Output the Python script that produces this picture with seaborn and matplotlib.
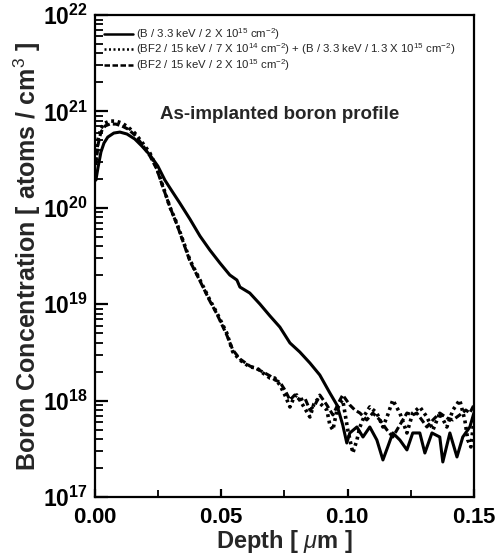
import numpy as np
import pandas as pd
import matplotlib
matplotlib.use("Agg")
import matplotlib.pyplot as plt
from matplotlib.ticker import FuncFormatter, LogLocator, MultipleLocator, NullFormatter
import seaborn as sns

# ---- data (depth in um, log10 of concentration in atoms/cm^3) ----
b_depth = [0.0004, 0.0012, 0.0024, 0.0036, 0.0051, 0.0075, 0.0099, 0.0127, 0.0158, 0.0186,
           0.0218, 0.0249, 0.0277, 0.0305, 0.0336, 0.0376, 0.0416, 0.0455, 0.0495, 0.0534,
           0.0562, 0.0574, 0.0613, 0.0653, 0.0693, 0.0732, 0.0772, 0.0811, 0.0851, 0.0890,
           0.0930, 0.0958, 0.0981, 0.0997, 0.1009, 0.1037, 0.1061, 0.1088, 0.1116, 0.1140,
           0.1159, 0.1179, 0.1207, 0.1235, 0.1258, 0.1286, 0.1306, 0.1334, 0.1365, 0.1377,
           0.1405, 0.1433, 0.1456, 0.1484, 0.1500]
b_logc = [20.288, 20.413, 20.579, 20.672, 20.734, 20.776, 20.786, 20.766, 20.714, 20.641,
          20.548, 20.434, 20.288, 20.174, 20.050, 19.884, 19.707, 19.562, 19.427, 19.303,
          19.251, 19.178, 19.116, 19.002, 18.878, 18.763, 18.598, 18.504, 18.390, 18.266,
          18.079, 17.954, 17.747, 17.560, 17.664, 17.726, 17.622, 17.726, 17.591, 17.384,
          17.519, 17.664, 17.591, 17.488, 17.664, 17.664, 17.456, 17.664, 17.622, 17.363,
          17.664, 17.415, 17.622, 17.726, 17.871]

mix_depth = [0.0004, 0.0012, 0.0024, 0.0040, 0.0059, 0.0083, 0.0107, 0.0131, 0.0158, 0.0186,
             0.0218, 0.0245, 0.0265, 0.0297, 0.0324, 0.0348, 0.0376, 0.0416, 0.0455, 0.0483,
             0.0522, 0.0546, 0.0574, 0.0613, 0.0641, 0.0665, 0.0693, 0.0712, 0.0732, 0.0752,
             0.0772, 0.0787, 0.0799, 0.0823, 0.0851, 0.0867, 0.0879, 0.0898, 0.0918, 0.0930,
             0.0942, 0.0958, 0.0970, 0.0981, 0.1001, 0.1021, 0.1037, 0.1049, 0.1068, 0.1088,
             0.1116, 0.1140, 0.1159, 0.1179, 0.1207, 0.1235, 0.1258, 0.1286, 0.1314, 0.1338,
             0.1365, 0.1393, 0.1417, 0.1444, 0.1464, 0.1476, 0.1488, 0.1500]
mix_logc = [20.496, 20.703, 20.828, 20.880, 20.900, 20.900, 20.880, 20.838, 20.776, 20.683,
            20.568, 20.413, 20.257, 20.008, 19.842, 19.666, 19.459, 19.251, 19.044, 18.909,
            18.701, 18.504, 18.421, 18.349, 18.338, 18.286, 18.234, 18.234, 18.162, 18.058,
            17.934, 18.027, 18.058, 17.954, 17.830, 17.965, 18.006, 17.954, 17.902, 17.747,
            17.695, 17.902, 17.975, 18.006, 17.695, 17.456, 17.591, 17.726, 17.851, 17.934,
            17.871, 17.726, 17.851, 18.006, 17.871, 17.664, 17.871, 17.934, 17.830, 17.695,
            17.871, 17.726, 17.902, 18.006, 17.799, 17.591, 17.519, 17.799]

bf2_depth = [0.0004, 0.0012, 0.0024, 0.0040, 0.0059, 0.0083, 0.0107, 0.0131, 0.0158, 0.0186,
             0.0218, 0.0245, 0.0265, 0.0297, 0.0324, 0.0348, 0.0376, 0.0416, 0.0455, 0.0483,
             0.0522, 0.0546, 0.0574, 0.0613, 0.0641, 0.0665, 0.0693, 0.0712, 0.0732, 0.0752,
             0.0772, 0.0791, 0.0811, 0.0831, 0.0851, 0.0871, 0.0890, 0.0918, 0.0942, 0.0970,
             0.0981, 0.1009, 0.1029, 0.1049, 0.1076, 0.1100, 0.1128, 0.1156, 0.1179, 0.1207,
             0.1235, 0.1258, 0.1274, 0.1294, 0.1314, 0.1338, 0.1365, 0.1393, 0.1417, 0.1444,
             0.1468, 0.1484, 0.1500]
bf2_logc = [20.444, 20.651, 20.786, 20.849, 20.869, 20.869, 20.849, 20.817, 20.755, 20.662,
            20.537, 20.402, 20.247, 20.008, 19.832, 19.656, 19.448, 19.241, 19.033, 18.898,
            18.680, 18.525, 18.432, 18.359, 18.328, 18.297, 18.256, 18.214, 18.193, 18.110,
            18.006, 18.058, 18.006, 18.027, 17.902, 17.954, 18.058, 17.954, 17.851, 18.006,
            18.058, 17.954, 17.902, 17.871, 17.799, 17.871, 17.799, 17.695, 17.622, 17.747,
            17.871, 17.851, 17.871, 17.799, 17.726, 17.799, 17.871, 17.820, 17.799, 17.851,
            17.902, 17.871, 17.954]

labels = [r"(B / 3.3 keV / 2 X 10$^{15}$ cm$^{-2}$)",
          r"(BF2 / 15 keV / 7 X 10$^{14}$ cm$^{-2}$) + (B / 3.3 keV / 1.3 X 10$^{15}$ cm$^{-2}$)",
          r"(BF2 / 15 keV / 2 X 10$^{15}$ cm$^{-2}$)"]
x_ticks = [0.00, 0.05, 0.10, 0.15]
annotation = "As-implanted boron profile"

# ---- style (ticks configured through rc before the axes are created) ----
sns.set_style("white")
plt.rcParams.update({
    "font.family": ["Liberation Sans", "DejaVu Sans"],
    "mathtext.fontset": "custom",
    "mathtext.rm": "Liberation Sans",
    "mathtext.it": "Liberation Sans:italic",
    "mathtext.bf": "Liberation Sans:bold",
    "xtick.bottom": True, "xtick.top": False,
    "ytick.left": True, "ytick.right": False,
    "xtick.direction": "in", "ytick.direction": "in",
    "xtick.major.size": 6, "xtick.minor.size": 5,
    "ytick.major.size": 9, "ytick.minor.size": 6,
    "xtick.major.width": 1.6, "xtick.minor.width": 1.3,
    "ytick.major.width": 1.6, "ytick.minor.width": 1.3,
    "xtick.color": "black", "ytick.color": "black",
    "xtick.labelsize": 16, "ytick.labelsize": 16.5,
    "xtick.major.pad": 7, "ytick.major.pad": 5,
    "axes.linewidth": 1.6, "axes.edgecolor": "black",
})

fig = plt.figure(figsize=(5.02, 5.59), dpi=100)
ax = fig.add_axes([0.189, 0.111, 0.755, 0.862])

frames = []
for d, l, name in [(b_depth, b_logc, labels[0]), (mix_depth, mix_logc, labels[1]), (bf2_depth, bf2_logc, labels[2])]:
    frames.append(pd.DataFrame({"depth": d, "conc": np.power(10.0, np.array(l)), "series": name}))
df = pd.concat(frames, ignore_index=True)

styles = [("-", 2.2), ((0, (0.8, 1.0)), 2.6), ((0, (2.2, 1.0)), 2.2)]
for name, (ls, lw) in zip(labels, styles):
    sub = df[df["series"] == name]
    sns.lineplot(data=sub, x="depth", y="conc", ax=ax, color="black", linestyle=ls,
                 linewidth=lw, label=name, estimator=None, sort=False)

ax.set_yscale("log")
ax.set_xlim(0, 0.15)
ax.set_ylim(1e17, 1e22)
ax.set_xticks(x_ticks)
ax.xaxis.set_minor_locator(MultipleLocator(0.025))
ax.xaxis.set_major_formatter(FuncFormatter(lambda v, p: r"$\mathbf{%.2f}$" % v))
ax.yaxis.set_major_locator(LogLocator(base=10.0, numticks=12))
ax.yaxis.set_minor_locator(LogLocator(base=10.0, subs=(2, 3, 4, 5, 6, 7, 8, 9), numticks=12))
ax.yaxis.set_minor_formatter(NullFormatter())
ax.yaxis.set_major_formatter(FuncFormatter(lambda v, p: r"$\mathbf{10^{%d}}$" % round(np.log10(v))))

ax.set_xlabel(r"Depth [ $\mu$m ]", fontsize=17, fontweight="bold", labelpad=0)
ax.set_ylabel(r"Boron Concentration [ atoms / cm$^3$ ]", fontsize=18, fontweight="bold", labelpad=0)

ax.text(0.0257, 10**20.97, annotation, fontsize=13.5, fontweight="bold", ha="left", va="center")

leg = ax.legend(loc="upper left", bbox_to_anchor=(0.005, 0.992), frameon=False, fontsize=8.2,
                handlelength=2.6, handletextpad=0.25, labelspacing=0.0, borderaxespad=0.2)
for h in leg.get_lines():
    h.set_linewidth(1.8)

fig.savefig("out.png", dpi=100)
